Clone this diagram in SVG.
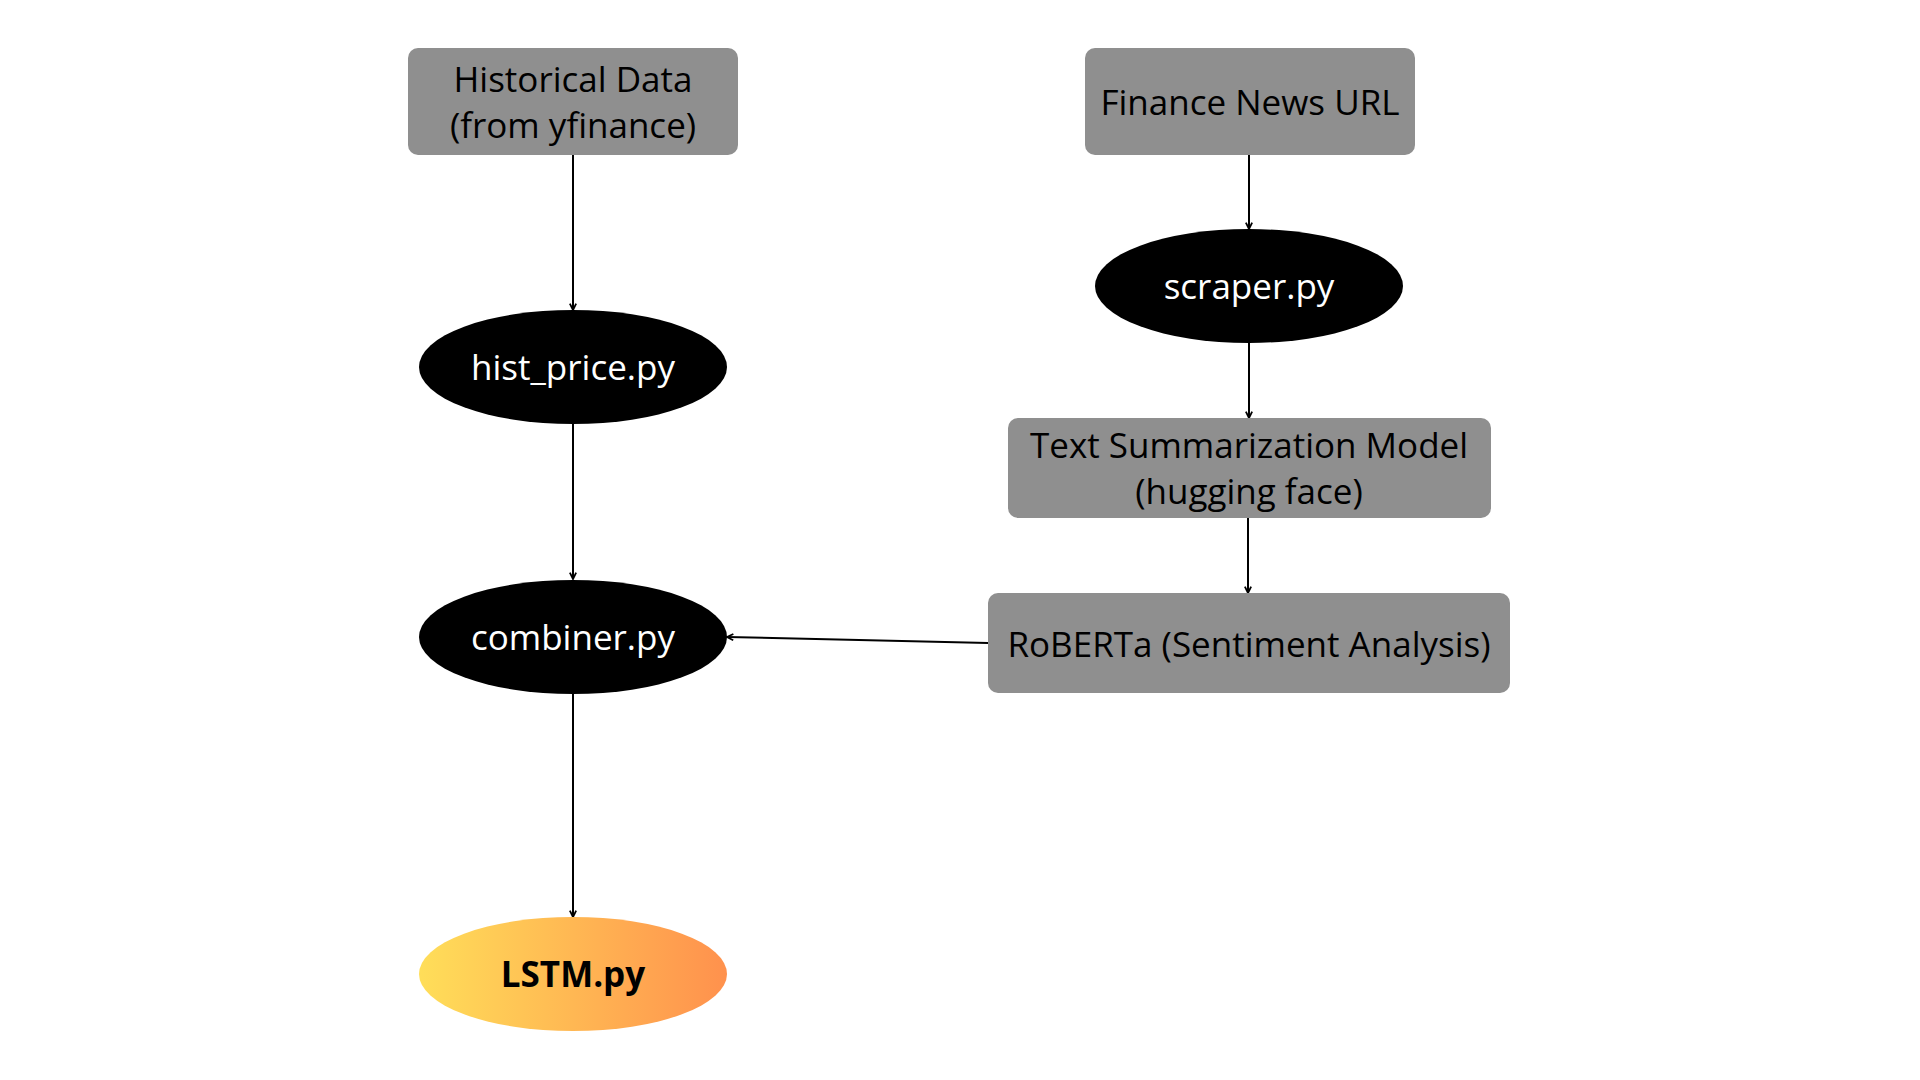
<svg xmlns="http://www.w3.org/2000/svg" width="1920" height="1080" viewBox="0 0 1920 1080">
<style>
.box{fill:#8f8f8f}
.oval{fill:#000}
.t{font-family:"Open Sans","Noto Sans",sans-serif;font-size:35px;text-anchor:middle}
.bt{fill:#000}
.wt{fill:#fff}
.edge{stroke:#000;stroke-width:2;fill:none;marker-end:url(#ah)}
</style>
<defs>
<marker id="ah" viewBox="0 0 10 10" refX="9" refY="5" markerWidth="9" markerHeight="9" orient="auto" markerUnits="userSpaceOnUse">
<path d="M2,1.5 L9,5 L2,8.5" fill="none" stroke="#000" stroke-width="2"/>
</marker>
<linearGradient id="grad" x1="0" y1="0" x2="1" y2="0">
<stop offset="0" stop-color="#ffde59"/>
<stop offset="1" stop-color="#ff914d"/>
</linearGradient>
</defs>
<rect width="1920" height="1080" fill="#fff"/>
<g id="connectors">
<line class="edge" x1="573" y1="155" x2="573" y2="310"/>
<line class="edge" x1="573" y1="424" x2="573" y2="579"/>
<line class="edge" x1="573" y1="693" x2="573" y2="917"/>
<line class="edge" x1="1249" y1="155" x2="1249" y2="229"/>
<line class="edge" x1="1249" y1="343" x2="1249" y2="418"/>
<line class="edge" x1="1248" y1="518" x2="1248" y2="593"/>
<line class="edge" x1="988" y1="643" x2="727" y2="637"/>
</g>
<g id="historical">
<rect class="box" x="408" y="48" width="330" height="107" rx="10"/>
<text class="t bt" x="573" y="92">Historical Data</text>
<text class="t bt" x="573" y="138">(from yfinance)</text>
</g>
<g id="finance-news">
<rect class="box" x="1085" y="48" width="330" height="107" rx="10"/>
<text class="t bt" x="1250" y="115">Finance News URL</text>
</g>
<g id="scraper">
<ellipse class="oval" cx="1249" cy="286" rx="154" ry="57"/>
<text class="t wt" x="1249" y="299">scraper.py</text>
</g>
<g id="hist-price">
<ellipse class="oval" cx="573" cy="367" rx="154" ry="57"/>
<text class="t wt" x="573" y="380">hist_price.py</text>
</g>
<g id="summarization">
<rect class="box" x="1008" y="418" width="483" height="100" rx="10"/>
<text class="t bt" x="1249" y="458">Text Summarization Model</text>
<text class="t bt" x="1249" y="504">(hugging face)</text>
</g>
<g id="roberta">
<rect class="box" x="988" y="593" width="522" height="100" rx="10"/>
<text class="t bt" x="1249" y="657">RoBERTa (Sentiment Analysis)</text>
</g>
<g id="combiner">
<ellipse class="oval" cx="573" cy="637" rx="154" ry="57"/>
<text class="t wt" x="573" y="650">combiner.py</text>
</g>
<g id="lstm">
<ellipse cx="573" cy="974" rx="154" ry="57" fill="url(#grad)"/>
<text class="t" x="573" y="987" font-weight="bold" fill="#000">LSTM.py</text>
</g>
</svg>
